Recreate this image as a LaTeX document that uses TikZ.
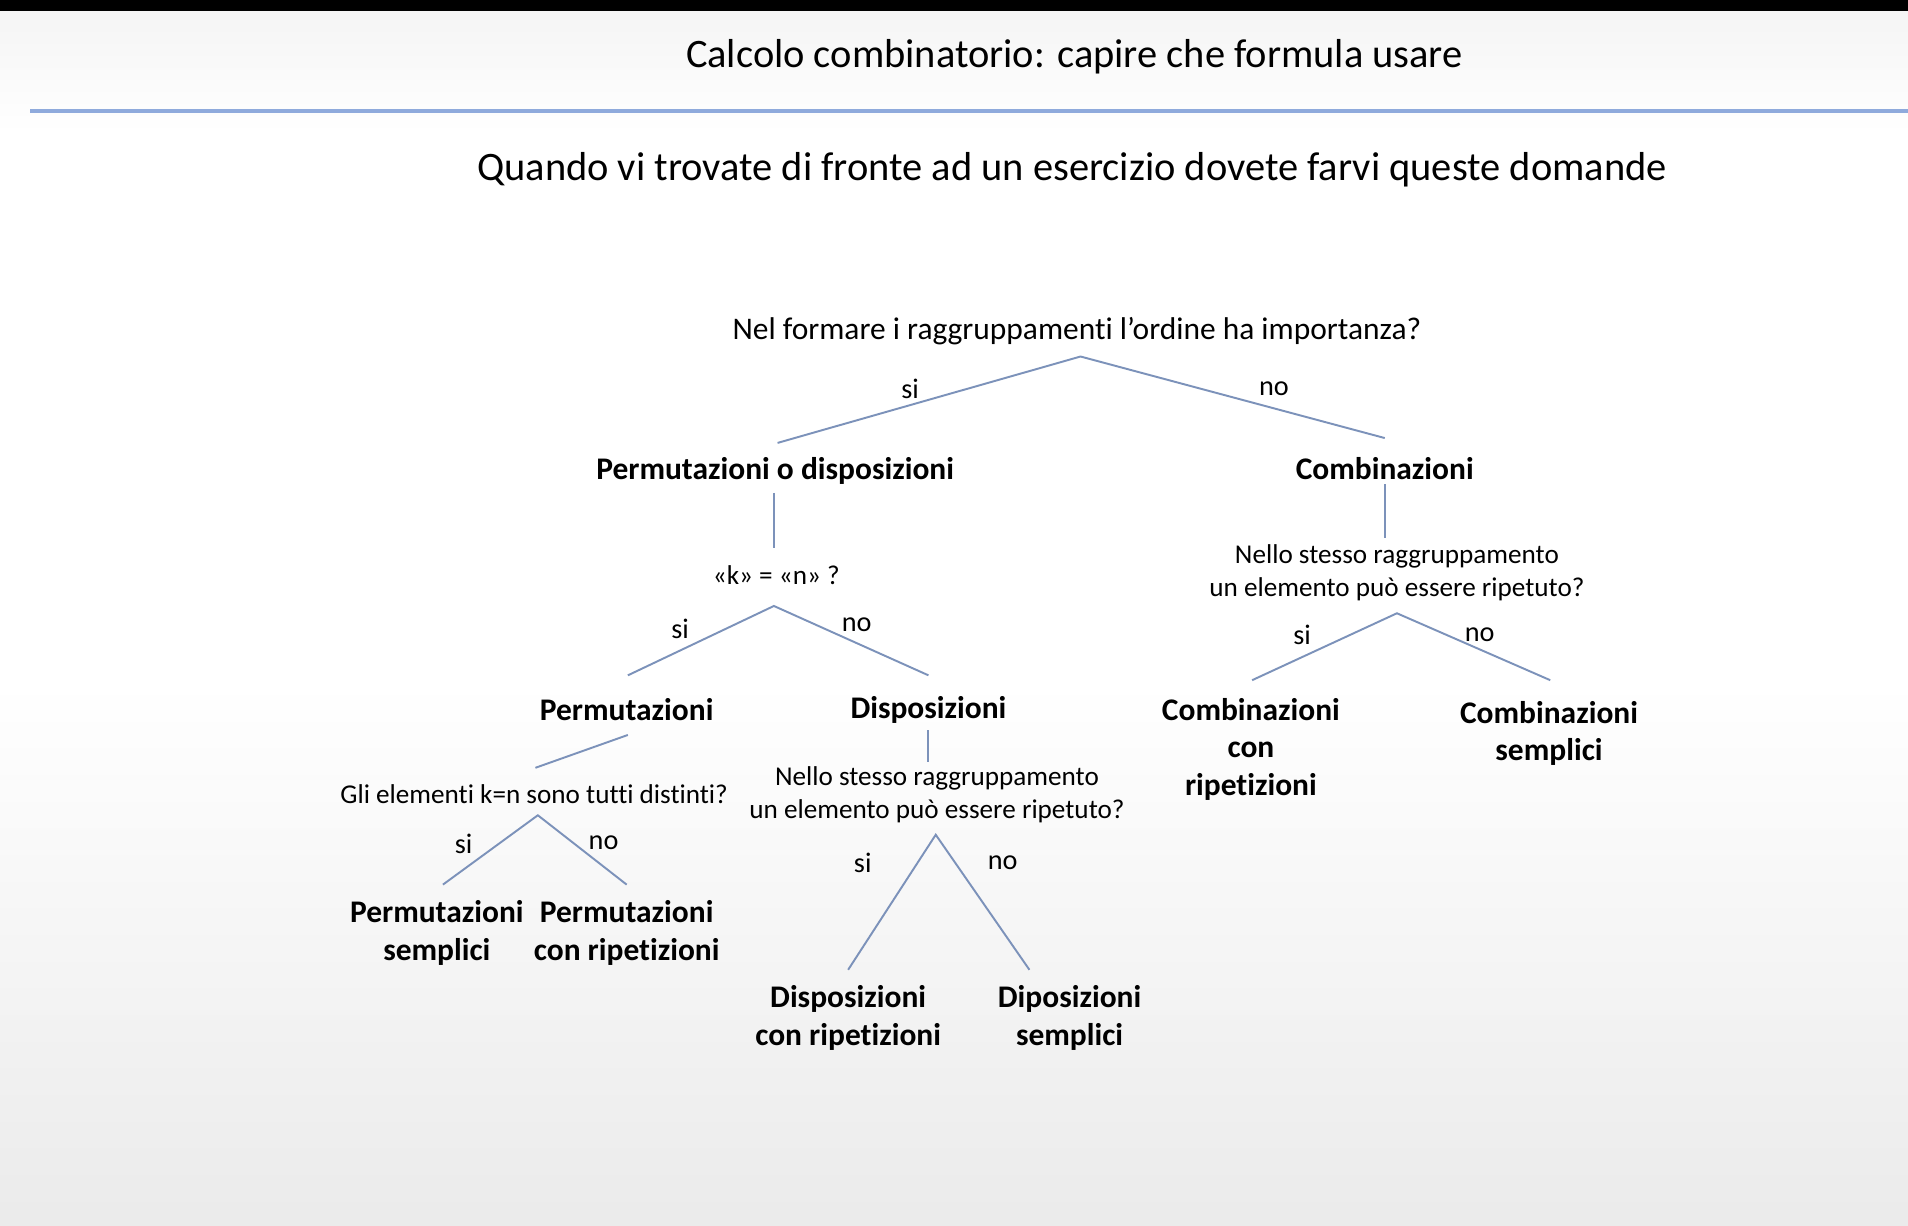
\documentclass[tikz,border=0pt]{standalone}
\usepackage{fontspec}
\setmainfont{Carlito}[Ligatures=NoCommon]
\definecolor{edgeblue}{RGB}{124,146,186}
\definecolor{ruleblue}{RGB}{143,170,220}
\begin{document}
\begin{tikzpicture}[x=0.01cm,y=-0.01cm]
\tikzset{edge/.style = {draw=edgeblue, line width=0.45pt}}
\tikzset{label/.style = {inner sep=0pt, align=center, yshift=-0.5pt}}
\tikzset{question/.style = {label, font=\fontsize{6.35}{7.7}\selectfont}}
\tikzset{bigquestion/.style = {label, font=\fontsize{7.35}{8.8}\selectfont}}
\tikzset{answer/.style = {label, font=\fontsize{7.35}{8.8}\selectfont\bfseries}}
\tikzset{branch/.style = {label, font=\fontsize{6.6}{7.7}\selectfont}}
\tikzset{heading/.style = {label, font=\fontsize{9.45}{11}\selectfont}}
\useasboundingbox (0,0) rectangle (1568,1007);
% background
\shade[top color=gray!8, bottom color=white] (0,9) rectangle (1568,110);
\fill[white] (0,110) rectangle (1568,560);
\shade[top color=white, bottom color=gray!16] (0,560) rectangle (1568,1007);
\fill[black] (0,0) rectangle (1568,9);
\draw[ruleblue, line width=0.85pt] (25,91) -- (1568,91);
% headings
\node[heading](title) at (883,45) {Calcolo combinatorio: capire che formula usare};
\node[heading](intro) at (881,138) {Quando vi trovate di fronte ad un esercizio dovete farvi queste domande};
% questions and answers
\node[bigquestion](q1) at (885,270) {Nel formare i raggruppamenti l’ordine ha importanza?};
\node[answer](pod) at (637,385) {Permutazioni o disposizioni};
\node[answer](comb) at (1138,383) {Combinazioni};
\node[question](q2) at (638,471) {«k» = «n» ?};
\node[answer](perm) at (515,581) {Permutazioni};
\node[answer](disp) at (763,582) {Disposizioni};
\node[question](q3) at (439,651) {Gli elementi k=n sono tutti distinti?};
\node[answer](psem) at (359,765) {Permutazioni\\semplici};
\node[answer](prip) at (515,765) {Permutazioni\\con ripetizioni};
\node[question](q4) at (770,651) {Nello stesso raggruppamento\\un elemento può essere ripetuto?};
\node[answer](drip) at (697,835) {Disposizioni\\con ripetizioni};
\node[answer](dsem) at (879,835) {Diposizioni\\semplici};
\node[question](q5) at (1148,469) {Nello stesso raggruppamento\\un elemento può essere ripetuto?};
\node[answer](crip) at (1028,614) {Combinazioni\\con\\ripetizioni};
\node[answer](csem) at (1273,601) {Combinazioni\\semplici};
% branch points
\coordinate (a1) at (888,293); \coordinate (a1l) at (639,364); \coordinate (a1r) at (1138,360);
\coordinate (b1) at (636,405); \coordinate (b1e) at (636,450);
\coordinate (a2) at (636,498); \coordinate (a2l) at (516,555); \coordinate (a2r) at (763,555);
\coordinate (b2) at (516,604); \coordinate (b2e) at (440,631);
\coordinate (a3) at (442,670); \coordinate (a3l) at (364,727); \coordinate (a3r) at (515,727);
\coordinate (b3) at (763,600); \coordinate (b3e) at (763,626);
\coordinate (a4) at (769,686); \coordinate (a4l) at (697,797); \coordinate (a4r) at (846,797);
\coordinate (b4) at (1138,398); \coordinate (b4e) at (1138,442);
\coordinate (a5) at (1148,504); \coordinate (a5l) at (1029,559); \coordinate (a5r) at (1274,559);
\draw[edge] (a1l) -- (a1) -- (a1r);
\draw[edge] (b1) -- (b1e);
\draw[edge] (a2l) -- (a2) -- (a2r);
\draw[edge] (b2) -- (b2e);
\draw[edge] (a3l) -- (a3) -- (a3r);
\draw[edge] (b3) -- (b3e);
\draw[edge] (a4l) -- (a4) -- (a4r);
\draw[edge] (b4) -- (b4e);
\draw[edge] (a5l) -- (a5) -- (a5r);
% si / no
\node[branch](s1) at (748,318) {si};
\node[branch](n1) at (1047,318) {no};
\node[branch](s2) at (559,515) {si};
\node[branch](n2) at (704,512) {no};
\node[branch](s3) at (381,692) {si};
\node[branch](n3) at (496,691) {no};
\node[branch](s4) at (709,707) {si};
\node[branch](n4) at (824,707) {no};
\node[branch](s5) at (1070,520) {si};
\node[branch](n5) at (1216,520) {no};
\end{tikzpicture}
\end{document}
